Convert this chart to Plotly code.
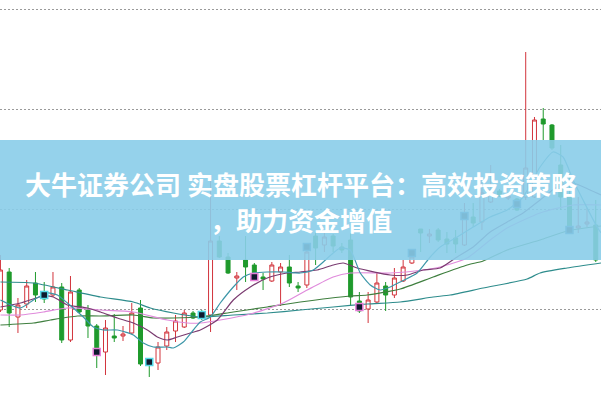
import plotly.graph_objects as go

# ---------------- data ----------------
idx = list(range(69))
open_ = [9.99,10.37,9.92,10.05,10.26,10.17,10.14,10.22,9.69,10.19,
         9.99,9.83,9.57,9.73,9.73,9.76,10.01,9.50,9.46,9.63,
         9.78,9.82,9.96,9.97,9.94,10.68,10.52,10.31,10.49,10.44,
         10.32,10.28,10.37,10.42,10.23,10.24,10.73,10.64,10.73,10.62,
         10.69,10.08,10.00,10.07,10.23,10.14,10.28,10.46,10.80,10.73,
         10.79,10.70,10.71,10.64,10.92,10.87,11.07,11.18,11.11,11.10,
         11.12,11.12,11.90,11.84,11.44,11.12,10.81,10.85,10.84]
high = [10.54,10.41,10.11,10.29,10.37,10.27,10.37,10.26,10.33,10.21,
        10.04,9.85,9.89,9.95,9.83,10.06,10.09,9.51,9.67,9.82,
        9.94,9.99,9.98,9.99,11.31,10.73,10.56,10.37,10.73,10.46,
        10.36,10.47,10.46,10.54,10.27,10.64,10.77,10.76,10.75,10.66,
        10.76,10.17,10.17,10.37,10.27,10.41,10.49,10.58,10.80,10.80,
        10.81,10.77,10.79,11.06,11.06,11.29,11.44,11.20,11.17,11.11,
        12.57,11.92,12.01,11.85,11.64,11.36,11.12,11.01,11.09]
low = [9.97,9.82,9.76,10.01,10.07,10.06,10.12,9.66,9.67,9.96,
       9.71,9.41,9.34,9.67,9.68,9.75,9.43,9.32,9.39,9.59,
       9.67,9.81,9.90,9.89,9.77,10.51,10.35,10.19,10.27,10.29,
       10.19,10.27,10.03,10.22,10.17,10.21,10.44,10.57,10.57,10.56,
       10.04,9.96,9.86,10.06,9.98,10.11,10.27,10.45,10.57,10.66,
       10.67,10.56,10.56,10.63,10.82,10.79,11.06,11.12,11.09,10.98,
       11.09,11.11,11.69,11.59,10.99,10.76,10.76,10.82,10.47]
close = [10.39,9.96,10.04,10.23,10.14,10.10,10.22,9.69,10.17,9.97,
         9.83,9.59,9.81,9.71,9.75,9.96,9.45,9.44,9.62,9.77,
         9.88,9.96,9.91,9.91,10.68,10.52,10.36,10.33,10.42,10.35,
         10.30,10.44,10.42,10.26,10.21,10.57,10.61,10.72,10.63,10.59,
         10.12,9.98,10.09,10.26,10.14,10.31,10.42,10.52,10.76,10.75,
         10.69,10.65,10.65,10.96,10.86,11.16,11.19,11.13,11.13,10.99,
         11.41,11.89,11.85,11.61,11.12,10.79,10.83,10.87,10.49]

# signal icons (index, price)
sig_cyan_idx = [5, 17, 23]
sig_cyan_val = [10.14, 9.47, 9.94]
sig_pink_idx = [11, 29, 41]
sig_pink_val = [9.57, 10.32, 10.02]
sig_navy_idx = [35, 47, 53, 59, 65]
sig_navy_val = [10.62, 10.56, 10.93, 11.05, 10.79]

# moving averages
ma5_x = [0,2.28,3.77,5.37,6.51,7.65,9.47,10.62,11.76,13.36,15.18,16.32,17.47,19.06,19.75,20.89,22.03,22.83,23.97,25.11,26.6,27.74,28.88,30.48,32.31,34.25,35.73,36.87,38.01,38.81,39.95,41.1,42.24,43.38,44.52,45.66,47.6,49.09,50.23,52.17,54.0,55.94,57.88,59.7,61.64,63.13,64.27,65.41,66.55,68.15,68.61]
ma5_y = [10.09,10.01,10.09,10.16,10.14,10.06,9.92,9.82,9.79,9.79,9.74,9.66,9.62,9.62,9.61,9.67,9.79,9.87,9.92,10.06,10.22,10.32,10.36,10.37,10.37,10.36,10.39,10.47,10.56,10.61,10.59,10.36,10.24,10.19,10.22,10.27,10.36,10.52,10.62,10.72,10.82,10.92,10.99,11.12,11.42,11.57,11.52,11.29,11.09,10.82,10.76]
ma10_x = [0,2.28,4.91,6.05,7.65,9.93,11.42,13.36,15.18,16.78,17.92,19.06,20.21,21.69,22.83,24.77,26.6,28.54,30.48,32.76,34.25,36.19,38.01,39.16,40.75,44.52,46.46,48.29,50.23,52.17,54.0,55.94,57.88,59.7,61.64,63.58,65.41,67.35,68.61]
ma10_y = [10.02,10.06,10.13,10.12,10.04,10.01,9.97,9.91,9.86,9.79,9.72,9.69,9.72,9.76,9.79,9.89,10.09,10.22,10.31,10.36,10.37,10.39,10.44,10.46,10.41,10.34,10.34,10.39,10.41,10.52,10.62,10.77,10.87,10.96,11.09,11.22,11.26,11.19,11.14]
ma20_x = [0,2.28,4.91,7.65,11.42,15.18,19.06,21.35,22.83,25.11,28.54,32.31,35.05,38.01,39.95,44.52,48.29,50.23,53.31,55.94,57.88,61.64,65.41,68.61]
ma20_y = [9.94,9.94,9.97,10.01,9.99,9.97,9.89,9.86,9.86,9.89,9.95,10.06,10.19,10.32,10.36,10.36,10.39,10.42,10.51,10.69,10.81,10.96,11.04,11.04]
ma30_x = [0,3.77,5.71,8.79,11.42,15.18,17.47,19.75,22.83,26.6,30.48,34.25,39.95,41.89,45.66,49.43,53.31,55.14,57.88,61.64,64.73,68.61]
ma30_y = [9.84,9.86,9.89,9.93,9.93,9.94,9.91,9.91,9.92,9.97,10.02,10.07,10.13,10.14,10.20,10.32,10.44,10.48,10.59,10.69,10.78,10.83]
ma60_x = [0,3.77,7.65,11.42,15.18,17.12,19.75,22.83,26.6,30.48,34.25,38.01,41.89,45.66,49.43,51.37,55.14,60.16,61.64,64.73,68.61]
ma60_y = [10.27,10.26,10.19,10.12,10.07,10.01,9.96,9.92,9.94,9.96,9.99,10.02,10.05,10.07,10.12,10.14,10.21,10.30,10.36,10.41,10.46]

grid_vals = [10, 11, 12, 13]
title_line1 = "大牛证券公司 实盘股票杠杆平台：高效投资策略"
title_line2 = "，助力资金增值"

# ---------------- figure ----------------
fig = go.Figure()

fig.add_trace(go.Candlestick(
    x=idx, open=open_, high=high, low=low, close=close,
    increasing=dict(line=dict(color="#D2343C", width=1), fillcolor="#FFFFFF"),
    decreasing=dict(line=dict(color="#1F9A2C", width=1), fillcolor="#1F9A2C"),
    whiskerwidth=0, hoverinfo="skip", showlegend=False,
))

ma_specs = [
    (ma60_x, ma60_y, "#2E8C8C"),
    (ma30_x, ma30_y, "#3F7F3F"),
    (ma20_x, ma20_y, "#E08BDC"),
    (ma10_x, ma10_y, "#7A3B70"),
    (ma5_x, ma5_y, "#3C96A8"),
]
for xs, ys, col in ma_specs:
    fig.add_trace(go.Scatter(x=xs, y=ys, mode="lines",
                             line=dict(color=col, width=1.2, shape="spline", smoothing=0.6),
                             hoverinfo="skip", showlegend=False))

for xs, ys, edge in [(sig_cyan_idx, sig_cyan_val, "#55D8E8"),
                     (sig_pink_idx, sig_pink_val, "#E77FD8"),
                     (sig_navy_idx, sig_navy_val, "#2F6FA8")]:
    fig.add_trace(go.Scatter(x=xs, y=ys, mode="markers",
                             marker=dict(symbol="square", size=7, color="#0E1A2E", line=dict(color=edge, width=1.5)),
                             hoverinfo="skip", showlegend=False))

# banner
fig.add_shape(type="rect", xref="paper", yref="paper", x0=0, x1=1, y0=0.35, y1=0.65,
              fillcolor="rgba(138,205,233,0.9)", line=dict(width=0), layer="above")

fig.add_annotation(x=0.5, y=1 - 183 / 400, xref="paper", yref="paper", text=title_line1, showarrow=False,
                   font=dict(family="Noto Sans CJK SC", size=26, color="white", weight="bold"),
                   xanchor="center", yanchor="middle")
fig.add_annotation(x=0.5, y=1 - 219 / 400, xref="paper", yref="paper", text=title_line2, showarrow=False,
                   font=dict(family="Noto Sans CJK SC", size=26, color="white", weight="bold"),
                   xanchor="center", yanchor="middle")

fig.update_layout(
    width=601, height=400, margin=dict(l=0, r=0, t=0, b=0),
    paper_bgcolor="white", plot_bgcolor="white",
    showlegend=False, boxgap=0.35,
    xaxis=dict(range=[-0.05, 68.6], showgrid=False, zeroline=False, showticklabels=False,
               rangeslider=dict(visible=False), fixedrange=True),
    yaxis=dict(range=[9.09, 13.09], tickvals=grid_vals, showgrid=True, gridcolor="#9A9A9A",
               griddash="2px,2px", gridwidth=1, zeroline=False, showticklabels=False, fixedrange=True),
)

fig.write_html("out.html", config={"displayModeBar": False},
               post_script="document.body.style.margin='0';document.body.style.overflow='hidden';")
